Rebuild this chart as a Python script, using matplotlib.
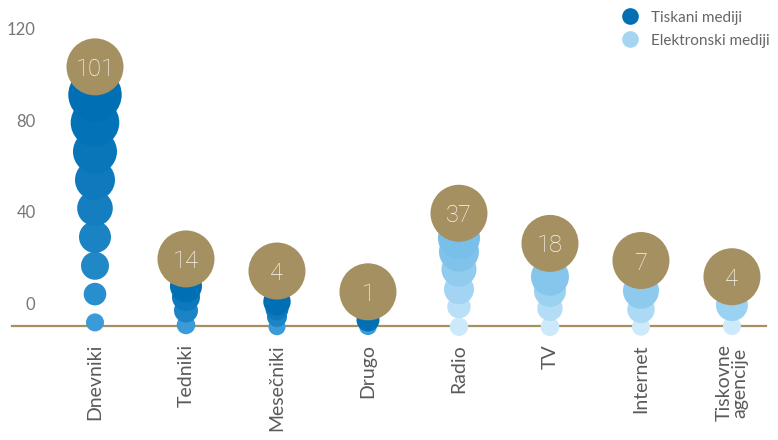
import matplotlib.pyplot as plt
import numpy as np
from matplotlib.colors import to_rgb
from matplotlib.lines import Line2D

plt.rcParams['font.family'] = ['Lato', 'DejaVu Sans']

categories = ["Dnevniki", "Tedniki", "Mesečniki", "Drugo",
              "Radio", "TV", "Internet", "Tiskovne\nagencije"]
totals = [101, 14, 4, 1, 37, 18, 7, 4]
is_print = [True, True, True, True, False, False, False, False]
legend_labels = ["Tiskani mediji", "Elektronski mediji"]

# stacked bubbles, bottom to top: height (axis units), radius (px)
dnevniki_levels = [-8.5, 3.9, 16.3, 28.9, 41.5, 53.9, 66.3, 79.0, 91.2]
dnevniki_radius = [9, 11.3, 14, 16, 17.8, 20, 22, 24.3, 26.7]
tedniki_levels = [-9.6, -3.3, 2.6, 7.4]
tedniki_radius = [9.3, 12, 14, 16]
mesecniki_levels = [-10.4, -6.1, -2.6, 0.6]
mesecniki_radius = [8.5, 10, 11.5, 13.7]
drugo_levels = [-10.1, -7.4]
drugo_radius = [9, 11.5]
radio_levels = [-10.4, -1.6, 6.0, 14.8, 22.5, 28.5]
radio_radius = [9.2, 11.7, 15, 17.5, 20, 21]
tv_levels = [-10.4, -2.3, 5.3, 11.5]
tv_radius = [9.3, 12.7, 16, 19]
internet_levels = [-10.4, -2.8, 5.4]
internet_radius = [9, 13.7, 18]
tiskovne_levels = [-10.1, -0.9]
tiskovne_radius = [9, 16]

# height of the gold total bubble
top_levels = [103.4, 19.3, 14.0, 4.9, 39.3, 26.1, 18.6, 11.5]

stacks = [
    (dnevniki_levels, dnevniki_radius),
    (tedniki_levels, tedniki_radius),
    (mesecniki_levels, mesecniki_radius),
    (drugo_levels, drugo_radius),
    (radio_levels, radio_radius),
    (tv_levels, tv_radius),
    (internet_levels, internet_radius),
    (tiskovne_levels, tiskovne_radius),
]

gold = '#a59061'
print_light, print_dark = '#3a9bd8', '#006fb4'
el_light, el_dark = '#cdeafb', '#78bfea'


def blend(c1, c2, t):
    a, b = np.array(to_rgb(c1)), np.array(to_rgb(c2))
    return tuple(a + (b - a) * min(max(t, 0), 1))


def msize(r_px):
    # radius in pixels -> scatter area in pt^2 (dpi 100)
    return (2 * r_px * 0.72) ** 2


fig = plt.figure(figsize=(7.78, 4.40), dpi=100)
ax = fig.add_axes([12 / 778, 114 / 440, 754 / 778, 316 / 440])
ax.set_xlim(-0.912, 7.374)
ax.set_ylim(-10.07, 128.3)

for i, (levels, radii) in enumerate(stacks):
    n = len(levels)
    for k, (lv, r) in enumerate(zip(levels, radii)):
        if is_print[i]:
            col = blend(print_light, print_dark, (k / (n - 1)) ** 0.6)
        else:
            col = blend(el_light, el_dark, (r - 9) / 12)
        ax.scatter(i, lv, s=msize(r), color=col, edgecolors='none',
                   zorder=3 + k, clip_on=False)
    ax.scatter(i, top_levels[i], s=msize(28.5), color=gold, edgecolors='none',
               zorder=20, clip_on=False)
    ax.text(i, top_levels[i], str(totals[i]), color='#fbf8f2', fontsize=17,
            family=['Roboto', 'DejaVu Sans'], fontweight='light',
            ha='center', va='center_baseline', zorder=21)

ax.set_yticks([0, 40, 80, 120])
ax.set_yticklabels(['0', '40', '80', '120'])
ax.set_xticks(range(len(categories)))
ax.set_xticklabels(categories, rotation=90, va='top', ha='center',
                   fontsize=14, color='#5a5a5a', linespacing=0.95)
ax.tick_params(axis='y', length=0, pad=-17, labelsize=12, labelcolor='#777777')
ax.tick_params(axis='x', length=0, pad=13)
for lab in ax.get_yticklabels():
    lab.set_horizontalalignment('right')

for s in ['top', 'left', 'right']:
    ax.spines[s].set_visible(False)
ax.spines['bottom'].set_color(gold)
ax.spines['bottom'].set_linewidth(1.6)
ax.spines['bottom'].set_zorder(2)

handles = [
    Line2D([], [], marker='o', ls='none', ms=12, color=print_dark, mec='none'),
    Line2D([], [], marker='o', ls='none', ms=12, color='#a6d5f2', mec='none'),
]
fig.legend(handles, legend_labels, loc='upper right', bbox_to_anchor=(777 / 778, 437 / 440),
           frameon=False, fontsize=11, handletextpad=0.35, labelspacing=0.6,
           labelcolor='#666666', borderaxespad=0.1)

fig.savefig('out.png', dpi=100)
